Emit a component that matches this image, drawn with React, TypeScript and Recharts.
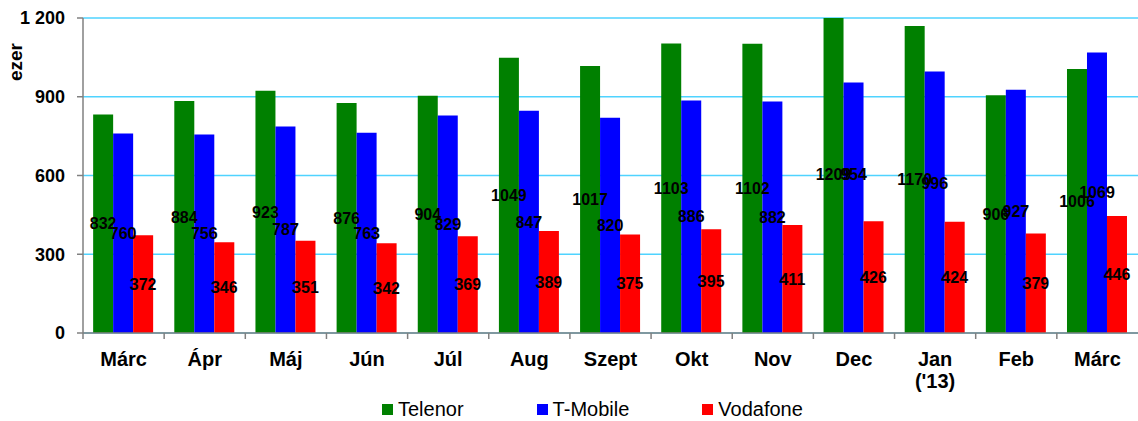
import { Bar, BarChart, CartesianGrid, LabelList, XAxis, YAxis } from 'recharts'

const months = ['Márc', 'Ápr', 'Máj', 'Jún', 'Júl', 'Aug', 'Szept', 'Okt', 'Nov', 'Dec', "Jan\n('13)", 'Feb', 'Márc']
const telenor = [832, 884, 923, 876, 904, 1049, 1017, 1103, 1102, 1209, 1170, 906, 1006]
const tmobile = [760, 756, 787, 763, 829, 847, 820, 886, 882, 954, 996, 927, 1069]
const vodafone = [372, 346, 351, 342, 369, 389, 375, 395, 411, 426, 424, 379, 446]
const yTicks = [0, 300, 600, 900, 1200]

const SERIES = [
  { key: 'telenor', name: 'Telenor', color: '#008000' },
  { key: 'tmobile', name: 'T-Mobile', color: '#0000ff' },
  { key: 'vodafone', name: 'Vodafone', color: '#ff0000' },
]

// a couple of labels in the original were dragged up by hand
const LABEL_NUDGE: Record<string, number> = { 'tmobile-9': -33, 'tmobile-10': -19 }

const FONT = 'Arial, "Liberation Sans", sans-serif'

const data = months.map((m, i) => ({
  month: m,
  telenor: telenor[i],
  tmobile: tmobile[i],
  vodafone: vodafone[i],
}))

const fmtY = (v: number) => (v >= 1000 ? `${Math.floor(v / 1000)} ${String(v % 1000).padStart(3, '0')}` : String(v))

function MonthTick(props: any) {
  const { x, y, payload } = props
  const half = payload.offset ?? 40.6
  const lines = String(payload.value).split('\n')
  return (
    <g>
      <line x1={x - half} x2={x - half} y1={y - 6} y2={y} stroke="#808080" strokeWidth={1.5} />
      <text x={x} y={y + 27} textAnchor="middle" fontFamily={FONT} fontWeight="bold" fontSize={20} fill="#000">
        {lines.map((l, i) => (
          <tspan key={i} x={x} dy={i === 0 ? 0 : 22}>
            {l}
          </tspan>
        ))}
      </text>
    </g>
  )
}

const makeLabel = (seriesKey: string) => (props: any) => {
  const { x, y, width, height, value, index } = props
  const dy = LABEL_NUDGE[`${seriesKey}-${index}`] ?? 0
  return (
    <text
      x={x + width / 2}
      y={y + height / 2 + dy}
      dy="0.355em"
      textAnchor="middle"
      fill="#000"
      fontSize={16}
      fontWeight="bold"
      fontFamily={FONT}
    >
      {value}
    </text>
  )
}

export default function App() {
  return (
    <div style={{ position: 'absolute', left: 0, top: 0, width: 1138, height: 421, background: '#fff' }}>
      <BarChart
        width={1138}
        height={421}
        data={data}
        margin={{ top: 18, right: 0, bottom: 28, left: 0 }}
        barCategoryGap="12.5%"
        barGap={0}
      >
        <CartesianGrid vertical={false} stroke="#4fd3ff" strokeWidth={1.5} />
        <XAxis
          dataKey="month"
          height={60}
          interval={0}
          tickLine={false}
          tickSize={6}
          tickMargin={0}
          stroke="#808080"
          strokeWidth={1.5}
          tick={<MonthTick />}
        />
        <YAxis
          width={83}
          domain={[0, 1200]}
          ticks={yTicks}
          allowDataOverflow
          tickFormatter={fmtY}
          tickSize={6}
          tickMargin={12}
          stroke="#808080"
          strokeWidth={1.5}
          tick={{ fill: '#000', fontSize: 18, fontWeight: 'bold', fontFamily: FONT }}
          label={{
            content: () => (
              <text
                x={22}
                y={62}
                transform="rotate(-90 22 62)"
                textAnchor="middle"
                fontFamily={FONT}
                fontWeight="bold"
                fontSize={19}
                fill="#000"
              >
                ezer
              </text>
            ),
          }}
        />
        {SERIES.map((s) => (
          <Bar key={s.key} dataKey={s.key} name={s.name} fill={s.color} isAnimationActive={false}>
            <LabelList dataKey={s.key} content={makeLabel(s.key)} />
          </Bar>
        ))}
      </BarChart>
      <div
        style={{
          position: 'absolute',
          left: 382,
          top: 398,
          display: 'flex',
          gap: 73,
          fontFamily: FONT,
          fontSize: 20,
          color: '#000',
        }}
      >
        {SERIES.map((s) => (
          <div key={s.key} style={{ display: 'flex', alignItems: 'center' }}>
            <span style={{ width: 11, height: 11, background: s.color, marginRight: 5, display: 'inline-block' }} />
            <span>{s.name}</span>
          </div>
        ))}
      </div>
    </div>
  )
}
